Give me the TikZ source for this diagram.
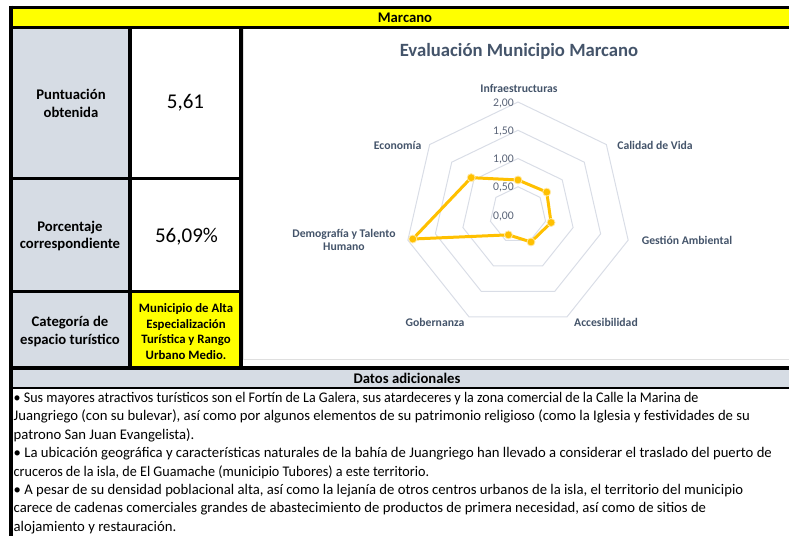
\documentclass[tikz,border=0pt]{standalone}
\usepackage{fontspec}
\setmainfont{Carlito}
\definecolor{hdryellow}{HTML}{FFFF00}
\definecolor{cellgray}{HTML}{D6DCE4}
\definecolor{chartslate}{HTML}{44546A}
\definecolor{tickslate}{HTML}{5A6478}
\definecolor{gridgray}{HTML}{D9DDE6}
\definecolor{seriesgold}{HTML}{FFC000}
\tikzset{
  cellline/.style={line width=3.3pt},
  cellbold/.style={font=\bfseries\fontsize{14.7}{17.5}\selectfont, align=center, inner sep=0pt},
  cellvalue/.style={font=\fontsize{21}{24}\selectfont, inner sep=0pt},
  catbox/.style={font=\bfseries\fontsize{12.8}{15.5}\selectfont, align=center, inner sep=0pt},
  gridln/.style={gridgray, line width=1pt},
  axislabel/.style={font=\bfseries\fontsize{11.7}{13.3}\selectfont, text=chartslate, align=center, inner sep=0pt},
  ticklabel/.style={font=\fontsize{11.7}{13}\selectfont, text=tickslate, anchor=east, inner sep=0pt},
  serline/.style={seriesgold, line width=3pt, line join=round},
  datadot/.style={circle, fill=seriesgold, draw=seriesgold!35!white, line width=0.8pt, minimum size=8pt, inner sep=0pt}
}
\begin{document}
\begin{tikzpicture}[x=1pt,y=-1pt]
            \useasboundingbox (0,0) rectangle (789,536);

            %fills
            \fill[hdryellow] (11,7.5) rectangle (789,27.3);
            \fill[cellgray] (11,27.3) rectangle (130,368);
            \fill[hdryellow] (130,291.7) rectangle (241,368);
            \fill[cellgray] (11,368) rectangle (789,388);

            %chart frame
            \draw[gray!25, line width=1pt] (243.5,27.3) -- (243.5,359.5) -- (789,359.5);

            %table lines
            \draw[line width=3pt] (11,7.5) -- (789,7.5);
            \draw[cellline] (11,27.3) -- (789,27.3);
            \draw[cellline] (130,27.3) -- (130,368);
            \draw[cellline] (241,27.3) -- (241,368);
            \draw[cellline] (11,178.3) -- (241,178.3);
            \draw[cellline] (11,291.7) -- (241,291.7);
            \draw[line width=3.5pt] (11,368) -- (789,368);
            \draw[line width=2pt] (11,388) -- (789,388);
            \draw[line width=4pt] (11,5.5) -- (11,536);

            %cells
            \node[cellbold] (hdrtitle) at (405,17.5) {Marcano};
            \node[cellbold] (lblscore) at (71,103.5) {Puntuación\\obtenida};
            \node[cellvalue] (valscore) at (185.5,103) {5,61};
            \node[cellbold] (lblpct) at (70,236) {Porcentaje\\correspondiente};
            \node[cellvalue] (valpct) at (186.5,236.5) {56,09\%};
            \node[cellbold] (lblcat) at (70,331.5) {Categoría de\\espacio turístico};
            \node[catbox] (valcat) at (186,331.5) {Municipio de Alta\\Especialización\\Turística y Rango\\Urbano Medio.};

            %chart
            \node[font=\bfseries\fontsize{18.7}{22}\selectfont, text=chartslate, inner sep=0pt] (charttitle) at (519,51) {Evaluación Municipio Marcano};

            \begin{scope}[shift={(518,215)}]
                \foreach \lvl in {0.5,1,1.5,2}
                    \draw[gridln] (90:{\lvl*56.5pt}) \foreach \k in {1,...,6}{ -- ({90-\k*360/7}:{\lvl*56.5pt})} -- cycle;

                \foreach \lvl/\txt [count=\i from 0] in {0/{0,00},0.5/{0,50},1/{1,00},1.5/{1,50},2/{2,00}}
                    \node[ticklabel] (tick\i) at (-4,{-\lvl*56.5+1}) {\txt};

                \foreach \v [count=\k from 0] in {0.62,0.65,0.60,0.53,0.39,1.91,1.06}
                    \coordinate (p\k) at ({90-\k*360/7}:{\v*56.5pt});
            \end{scope}

            \draw[serline] (p0) -- (p1) -- (p2) -- (p3) -- (p4) -- (p5) -- (p6) -- cycle;
            \foreach \k in {0,...,6}
                \node[datadot] (dot\k) at (p\k) {};

            \node[axislabel] (axinfra) at (519,88.5) {Infraestructuras};
            \node[axislabel] (axcalidad) at (655,145.5) {Calidad de Vida};
            \node[axislabel] (axgestion) at (687,240) {Gestión Ambiental};
            \node[axislabel] (axacceso) at (606,322.5) {Accesibilidad};
            \node[axislabel] (axgobierno) at (435,322.5) {Gobernanza};
            \node[axislabel] (axdemo) at (344,240) {Demografía y Talento\\Humano};
            \node[axislabel] (axecon) at (397.6,145.5) {Economía};

            %datos adicionales
            \node[cellbold] (datatitle) at (407,378.5) {Datos adicionales};
            \node[anchor=north west, inner sep=0pt, align=left, font=\fontsize{14.7}{18.4}\selectfont] (datatext) at (13.5,392) {%
                \scalebox{0.955}[1]{• Sus mayores atractivos turísticos son el Fortín de La Galera, sus atardeceres y la zona comercial de la Calle la Marina de}\\
                Juangriego (con su bulevar), así como por algunos elementos de su patrimonio religioso (como la Iglesia y festividades de su\\
                patrono San Juan Evangelista).\\
                • La ubicación geográfica y características naturales de la bahía de Juangriego han llevado a considerar el traslado del puerto de\\
                \scalebox{0.963}[1]{cruceros de la isla, de El Guamache (municipio Tubores) a este territorio.}\\
                • A pesar de su densidad poblacional alta, así como la lejanía de otros centros urbanos de la isla, el territorio del municipio\\
                carece de cadenas comerciales grandes de abastecimiento de productos de primera necesidad, así como de sitios de\\
                alojamiento y restauración.};
        \end{tikzpicture}
\end{document}
